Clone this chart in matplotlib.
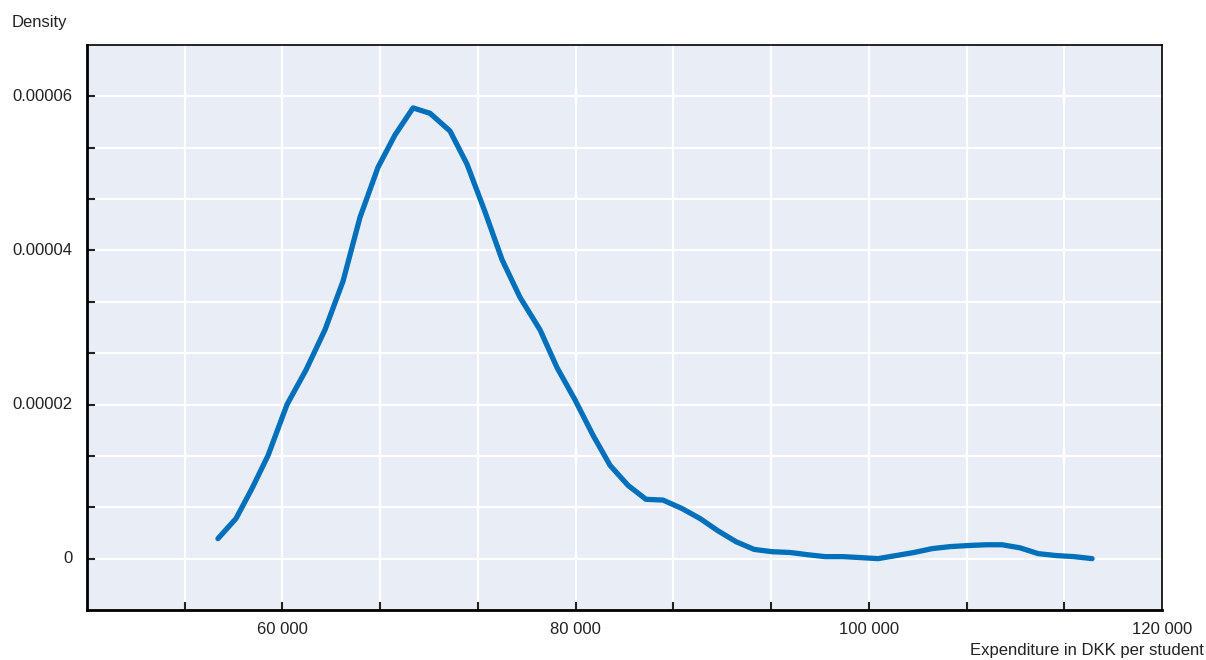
import numpy as np
import matplotlib.pyplot as plt
from matplotlib.ticker import FixedLocator, FuncFormatter

plt.rcParams['font.family'] = ['Liberation Sans', 'DejaVu Sans']

# expenditure per student (DKK) and estimated density
expenditure = [55600, 56830, 57920, 59020, 60310, 61610, 62900, 64130, 65290,
               66520, 67680, 68910, 70070, 71430, 72590, 73820, 74980, 76210,
               77570, 78730, 79960, 81190, 82350, 83580, 84800, 85960, 87260,
               88490, 89720, 90940, 92170, 93400, 94630, 95860, 97020, 98240,
               99470, 100630, 101860, 103090, 104320, 105540, 106770, 108000,
               109090, 110320, 111550, 112770, 114000, 115230]
density = [2.6e-6, 5.2e-6, 9.1e-6, 1.34e-5, 2.0e-5, 2.45e-5, 2.97e-5, 3.6e-5,
           4.43e-5, 5.08e-5, 5.5e-5, 5.85e-5, 5.78e-5, 5.55e-5, 5.12e-5, 4.5e-5,
           3.88e-5, 3.39e-5, 2.97e-5, 2.48e-5, 2.06e-5, 1.6e-5, 1.21e-5, 9.5e-6,
           7.7e-6, 7.6e-6, 6.5e-6, 5.2e-6, 3.6e-6, 2.2e-6, 1.2e-6, 0.9e-6,
           0.8e-6, 0.5e-6, 0.26e-6, 0.26e-6, 0.13e-6, 0.0, 0.4e-6, 0.8e-6,
           1.3e-6, 1.56e-6, 1.7e-6, 1.8e-6, 1.8e-6, 1.4e-6, 0.65e-6, 0.4e-6,
           0.26e-6, 0.0]

x_labels = [60000, 80000, 100000, 120000]
y_labels = [0, 0.00002, 0.00004, 0.00006]

fig = plt.figure(figsize=(12.06, 6.6), dpi=100)
ax = fig.add_axes([87/1206, 1-610/660, 1075/1206, 565/660])
ax.set_facecolor('#e9edf6')

xstep = 20000/3
ystep = 0.00002/3
xmin, xmax = 120000 - 11*xstep, 120000
ymin, ymax = -ystep, 10*ystep

ax.plot(expenditure, density, color='#0070ba', lw=3.8, solid_capstyle='round', zorder=3)

ax.set_xlim(xmin, xmax)
ax.set_ylim(ymin, ymax)

xt = [xmin + i*xstep for i in range(1, 11)]
yt = [i*ystep for i in range(0, 10)]
ax.xaxis.set_major_locator(FixedLocator(xt))
ax.yaxis.set_major_locator(FixedLocator(yt))
ax.xaxis.set_major_formatter(FuncFormatter(lambda v, p: ''))
ax.yaxis.set_major_formatter(FuncFormatter(lambda v, p: ''))
ax.grid(True, color='white', lw=1.6)
ax.set_axisbelow(True)
ax.tick_params(direction='in', length=6, width=1.5, color='#222222')

for v in x_labels:
    ax.text(v, ymin - 0.0000025, '{:,}'.format(v).replace(',', ' '),
            ha='center', va='center', fontsize=12, color='#222222')
for v in y_labels:
    lab = '0' if v == 0 else '{:.5f}'.format(v)
    ax.text(xmin - 1000, v, lab, ha='right', va='center', fontsize=12, color='#222222')

for s in ['left', 'bottom']:
    ax.spines[s].set_linewidth(2)
for s in ['top', 'right']:
    ax.spines[s].set_linewidth(1.2)

fig.text(12/1206, 1-22/660, 'Density', ha='left', va='center', fontsize=12, color='#222222')
fig.text(1204/1206, 1-650/660, 'Expenditure in DKK per student', ha='right', va='center',
         fontsize=12, color='#222222')

fig.savefig('out.png', dpi=100)
